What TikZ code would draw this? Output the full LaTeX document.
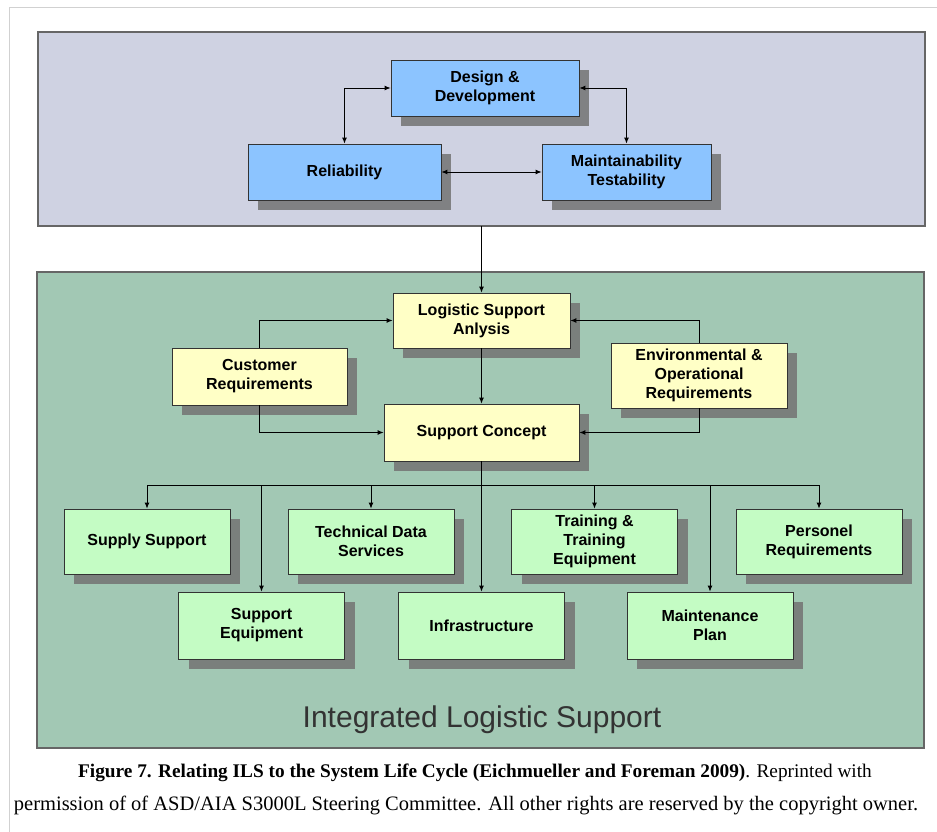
\documentclass[tikz,border=0pt]{standalone}
\usepackage{fontspec}
\setmainfont{Liberation Serif}
\setsansfont{Liberation Sans}
\usepackage{tikz}
\usetikzlibrary{arrows.meta, shadows, positioning}
\usepackage{xcolor}
\definecolor{panelblue}{HTML}{CFD2E2}
\definecolor{panelgreen}{HTML}{A2C8B4}
\definecolor{boxblue}{HTML}{8CC4FF}
\definecolor{boxyellow}{HTML}{FFFFC6}
\definecolor{boxgreen}{HTML}{C4FCC4}

\begin{document}
\begin{tikzpicture}[x=1pt, y=-1pt,
    panel/.style={draw=black!60, line width=1.2pt},
    box/.style={draw=black!80, line width=0.8pt, align=center, inner sep=2pt,
        font=\sffamily\bfseries\fontsize{16}{19}\selectfont,
        drop shadow={shadow xshift=10pt, shadow yshift=-10pt, fill=black!55, opacity=0.85}},
    bluebox/.style={box, fill=boxblue},
    ylwbox/.style={box, fill=boxyellow, minimum height=56pt},
    grnbox/.style={box, fill=boxgreen, minimum width=166pt},
    link/.style={line width=0.9pt, -{Latex[length=6pt, width=5pt]}},
    twoway/.style={link, {Latex[length=6pt, width=5pt]}-{Latex[length=6pt, width=5pt]}}]
    \useasboundingbox (0,0) rectangle (937,832);

    % Outer frame
    \draw[black!18, line width=1pt] (9,832) -- (9,8) -- (937,8);

    % Design panel
    \draw[panel, fill=panelblue] (38,32) rectangle (925,226);
    \node[bluebox, minimum width=188pt, minimum height=56pt] (des) at (485,88) {Design \&\\Development};
    \node[bluebox, minimum width=193pt, minimum height=56pt] (rel) at (344.5,172) {Reliability};
    \node[bluebox, minimum width=169pt, minimum height=56pt] (mnt) at (626.5,172) {Maintainability\\Testability};
    \draw[twoway] (des.west) -| (rel.north);
    \draw[twoway] (des.east) -| (mnt.north);
    \draw[twoway] (rel.east) -- (mnt.west);
    \coordinate (top) at (481.5,226);

    % ILS panel
    \draw[panel, fill=panelgreen] (37,272) rectangle (924,748);
    \node[font=\sffamily\fontsize{30}{34}\selectfont, text=black!80] (ils) at (482,720) {Integrated Logistic Support};

    \node[ylwbox, minimum width=177pt, minimum height=55pt] (lsa) at (481.5,320.5) {Logistic Support\\Anlysis};
    \node[ylwbox, minimum width=175pt, minimum height=57pt] (cust) at (259.5,376.5) {Customer\\Requirements};
    \node[ylwbox, minimum width=176pt, minimum height=65pt] (env) at (699,375.5) {Environmental \&\\Operational\\Requirements};
    \node[ylwbox, minimum width=195pt, minimum height=57pt] (sc) at (481.5,432.5) {Support Concept};
    \draw[link] (top) -- (lsa.north);
    \draw[link] (cust.north) |- (lsa.west);
    \draw[link] (cust.south) |- (sc.west);
    \draw[link] (env.north) |- (lsa.east);
    \draw[link] (env.south) |- (sc.east);
    \draw[link] (lsa.south) -- (sc.north);

    % ILS elements
    \node[grnbox, minimum height=65pt] (supply) at (147,541.5) {Supply Support};
    \node[grnbox, minimum height=65pt] (tech) at (371,541.5) {Technical Data\\Services};
    \node[grnbox, minimum height=65pt] (train) at (594.5,541.5) {Training \&\\Training\\Equipment};
    \node[grnbox, minimum height=65pt] (pers) at (819,541.5) {Personel\\Requirements};
    \node[grnbox, minimum height=67pt] (supeq) at (261.5,625.5) {Support\\Equipment};
    \node[grnbox, minimum height=67pt] (infra) at (481.5,625.5) {Infrastructure};
    \node[grnbox, minimum height=67pt] (maint) at (710,625.5) {Maintenance\\Plan};

    \coordinate (bus) at (481.5,485);
    \draw[line width=0.9pt] (sc.south) -- (bus);
    \foreach \elem in {supply, tech, train, pers, supeq, infra, maint}
        \draw[link] (bus) -| (\elem.north);

    % Caption
    \node[font=\fontsize{19.3}{22}\selectfont] (cap1) at (475,773)
        {\textbf{Figure 7. Relating ILS to the System Life Cycle (Eichmueller and Foreman 2009)}. Reprinted with};
    \node[font=\fontsize{20.5}{24}\selectfont] (cap2) at (466,805)
        {permission of of ASD/AIA S3000L Steering Committee. All other rights are reserved by the copyright owner.};
\end{tikzpicture}
\end{document}
